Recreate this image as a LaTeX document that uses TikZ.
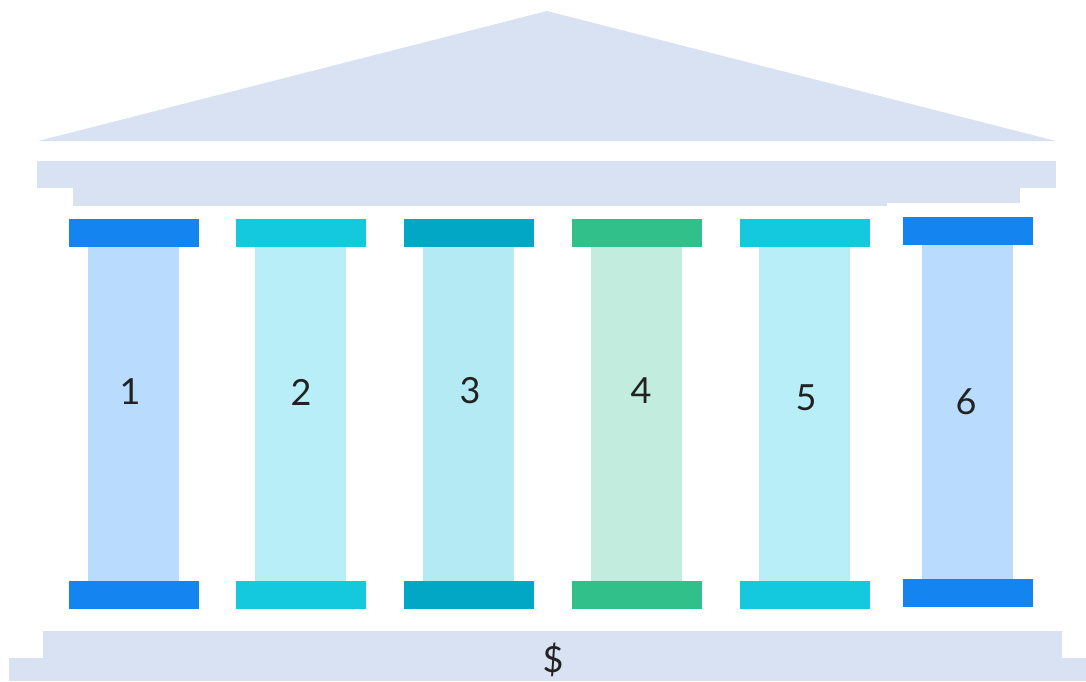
\documentclass[tikz,border=0pt]{standalone}
\usepackage{fontspec}
\setmainfont{Lato}
\definecolor{stone}{HTML}{D9E2F3}
\definecolor{bluecap}{HTML}{1484F0}
\definecolor{blueshaft}{HTML}{B9DBFD}
\definecolor{cyancap}{HTML}{14C8DE}
\definecolor{cyanshaft}{HTML}{B7EEF7}
\definecolor{tealcap}{HTML}{02A7C5}
\definecolor{tealshaft}{HTML}{B4EAF3}
\definecolor{greencap}{HTML}{31BF8A}
\definecolor{greenshaft}{HTML}{C2ECDD}
\definecolor{ink}{HTML}{222222}
\tikzset{
  lbl/.style={text=ink, font=\fontsize{36}{40}\selectfont, inner sep=0pt},
}
\newcommand{\pillar}[6]{% x, top, bottom, cap colour, shaft colour, label
  \fill[#5] (#1+19,#2+28) rectangle (#1+110,#3);
  \fill[#4] (#1,#2) rectangle (#1+130,#2+28);
  \fill[#4] (#1,#3) rectangle (#1+130,#3+28);
}
\begin{document}
\begin{tikzpicture}[x=1pt,y=-1pt]
\useasboundingbox (0,0) rectangle (1086,681);
% roof
\fill[stone] (38,141) -- (547,11) -- (1056,141) -- cycle;
% entablature
\fill[stone] (37,161) rectangle (1056,188);
\fill[stone] (73,188) rectangle (1020,203);
\fill[stone] (73,203) rectangle (887,206);
% base
\fill[stone] (43,631) rectangle (1062,658);
\fill[stone] (9,658) rectangle (1086,681);
% pillars
\pillar{69}{219}{581}{bluecap}{blueshaft}{1}
\pillar{236}{219}{581}{cyancap}{cyanshaft}{2}
\pillar{404}{219}{581}{tealcap}{tealshaft}{3}
\pillar{572}{219}{581}{greencap}{greenshaft}{4}
\pillar{740}{219}{581}{cyancap}{cyanshaft}{5}
\pillar{903}{217}{579}{bluecap}{blueshaft}{6}
% labels
\node[lbl] (l1) at (130,392) {1};
\node[lbl] (l2) at (301,392) {2};
\node[lbl] (l3) at (470,391) {3};
\node[lbl] (l4) at (641,391) {4};
\node[lbl] (l5) at (806,398) {5};
\node[lbl] (l6) at (966,402) {6};
\node[lbl] (dollar) at (553,660) {\$};
\end{tikzpicture}
\end{document}
